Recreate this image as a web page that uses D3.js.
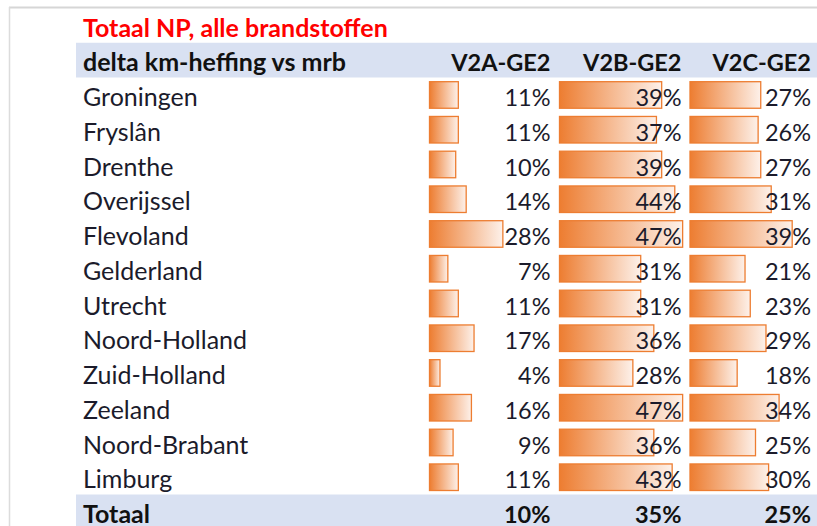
<!DOCTYPE html>
<html>
<head>
<meta charset="utf-8">
<script src="https://cdn.jsdelivr.net/npm/d3@7"></script>
<style>
  body { margin: 0; background: #fff; }
  text { font-family: Lato, "Open Sans", sans-serif; }
</style>
</head>
<body>
<div id="main"></div>
<script>
/*********************************************************
 * Data (values as shown in the sheet)
 *********************************************************/
const title = 'Totaal NP, alle brandstoffen';
const headerLabel = 'delta km-heffing vs mrb';
const columns = ['V2A-GE2', 'V2B-GE2', 'V2C-GE2'];
const provinces = ['Groningen', 'Fryslân', 'Drenthe', 'Overijssel', 'Flevoland', 'Gelderland',
  'Utrecht', 'Noord-Holland', 'Zuid-Holland', 'Zeeland', 'Noord-Brabant', 'Limburg'];
const v2a = [0.11, 0.11, 0.10, 0.14, 0.28, 0.07, 0.11, 0.17, 0.04, 0.16, 0.09, 0.11];
const v2b = [0.39, 0.37, 0.39, 0.44, 0.47, 0.31, 0.31, 0.36, 0.28, 0.47, 0.36, 0.43];
const v2c = [0.27, 0.26, 0.27, 0.31, 0.39, 0.21, 0.23, 0.29, 0.18, 0.34, 0.25, 0.30];
const totalLabel = 'Totaal';
const totals = [0.10, 0.35, 0.25];

/*********************************************************
 * Layout
 *********************************************************/
const svgWidth = 817;
const svgHeight = 526;
const rowH = 34.75;
const top0 = 8;          // top of the title row
const bandLeft = 76;
const labelX = 83;
const colStart = [429.5, 559.5, 690];   // where the data bars start
const colRight = [550.5, 681.5, 811];   // right edge of the numbers
const labelSize = 25;    // row labels, title
const numSize = 23.5;    // numbers and column heads

const svg = d3.select('#main')
  .append('svg')
  .attr('width', svgWidth)
  .attr('height', svgHeight);

const defs = svg.append('defs');
const grad = defs.append('linearGradient')
  .attr('id', 'barGrad')
  .attr('x1', '0%').attr('x2', '100%')
  .attr('y1', '0%').attr('y2', '0%');
grad.append('stop').attr('offset', '0%').attr('stop-color', '#ED7D31');
grad.append('stop').attr('offset', '100%').attr('stop-color', '#FDF1EA');

// row scale: title, header, 12 provinces, total
const rows = ['_title', '_header'].concat(provinces, [totalLabel]);
const y = d3.scaleBand()
  .domain(rows)
  .range([top0, top0 + rowH * rows.length]);

// data bar scale (min 0, max 50%)
const x = d3.scaleLinear().domain([0, 0.5]).range([0, 131]);
const pct = d3.format('.0%');

// window frame
svg.append('line')
  .attr('x1', 9).attr('x2', svgWidth).attr('y1', 7.5).attr('y2', 7.5)
  .attr('stroke', '#d6d6d6').attr('stroke-width', 2);
svg.append('line')
  .attr('x1', 9.5).attr('x2', 9.5).attr('y1', 7).attr('y2', svgHeight)
  .attr('stroke', '#dcdcdc').attr('stroke-width', 1.5);

// shaded header and total rows
['_header', totalLabel].forEach(r => {
  svg.append('rect')
    .attr('x', bandLeft).attr('y', y(r))
    .attr('width', svgWidth - bandLeft).attr('height', y.bandwidth())
    .attr('fill', '#D9E1F2');
});

const base = r => y(r) + 28.5;

// title
svg.append('text')
  .attr('x', labelX).attr('y', base('_title'))
  .attr('fill', '#FF0000')
  .attr('font-weight', 'bold')
  .attr('font-size', labelSize)
  .text(title);

// header
svg.append('text')
  .attr('x', labelX).attr('y', base('_header'))
  .attr('fill', '#111')
  .attr('font-weight', 'bold')
  .attr('font-size', labelSize)
  .text(headerLabel);

svg.selectAll('.colHead')
  .data(columns)
  .enter()
  .append('text')
  .attr('class', 'colHead')
  .attr('x', (d, i) => colRight[i])
  .attr('y', base('_header'))
  .attr('text-anchor', 'end')
  .attr('fill', '#111')
  .attr('font-weight', 'bold')
  .attr('font-size', numSize)
  .text(d => d);

// data rows
const series = [v2a, v2b, v2c];
const cells = [];
provinces.forEach((p, i) => {
  series.forEach((s, c) => cells.push({ row: p, col: c, value: s[i] }));
});

svg.selectAll('.bar')
  .data(cells)
  .enter()
  .append('rect')
  .attr('class', 'bar')
  .attr('x', d => colStart[d.col])
  .attr('y', d => y(d.row) + 4.2)
  .attr('width', d => x(d.value))
  .attr('height', y.bandwidth() - 8.2)
  .attr('fill', 'url(#barGrad)')
  .attr('stroke', '#ED7D31')
  .attr('stroke-width', 1.3);

svg.selectAll('.rowLabel')
  .data(provinces)
  .enter()
  .append('text')
  .attr('class', 'rowLabel')
  .attr('x', labelX)
  .attr('y', d => base(d))
  .attr('fill', '#1b1b2b')
  .attr('font-size', labelSize)
  .text(d => d);

svg.selectAll('.val')
  .data(cells)
  .enter()
  .append('text')
  .attr('class', 'val')
  .attr('x', d => colRight[d.col])
  .attr('y', d => base(d.row))
  .attr('text-anchor', 'end')
  .attr('fill', '#1b1b2b')
  .attr('font-size', numSize)
  .text(d => pct(d.value));

// total row
svg.append('text')
  .attr('x', labelX).attr('y', base(totalLabel))
  .attr('fill', '#111')
  .attr('font-weight', 'bold')
  .attr('font-size', labelSize)
  .text(totalLabel);

svg.selectAll('.tot')
  .data(totals)
  .enter()
  .append('text')
  .attr('class', 'tot')
  .attr('x', (d, i) => colRight[i])
  .attr('y', base(totalLabel))
  .attr('text-anchor', 'end')
  .attr('fill', '#111')
  .attr('font-weight', 'bold')
  .attr('font-size', numSize)
  .text(d => pct(d));
</script>
</body>
</html>
